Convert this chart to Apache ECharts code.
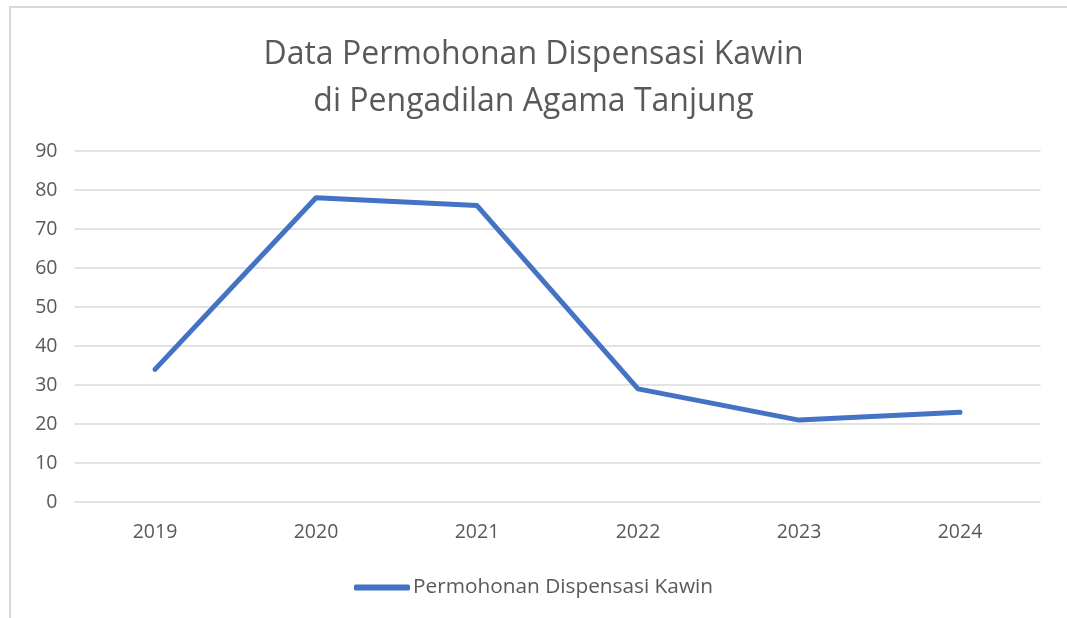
<!DOCTYPE html>
<html lang="id">
<head>
    <meta charset="utf-8">
    <script src="https://cdn.jsdelivr.net/npm/echarts@6/dist/echarts.min.js"></script>
    <style>
        html, body {
            margin: 0px;
            padding: 0px;
            width: 100%;
            height: 100%;
            background: #fff;
        }
        #chart {
            width: 1067px;
            height: 618px;
        }
    </style>
</head>
<body>
<div id="chart"></div>
<script type="text/javascript">
    // data
    var years = ['2019', '2020', '2021', '2022', '2023', '2024'];
    var permohonan = [34, 78, 76, 29, 21, 23];
    var seriesName = 'Permohonan Dispensasi Kawin';

    var myChart = echarts.init(document.getElementById('chart'));
    var font = '"Open Sans", "Liberation Sans", sans-serif';

    var option = {
        animation: false,
        textStyle: {fontFamily: font},
        graphic: [{
            type: 'rect',
            shape: {x: 10, y: 7, width: 1200, height: 800},
            style: {fill: 'none', stroke: '#d9d9d9', lineWidth: 2},
            silent: true
        }],
        title: {
            text: 'Data Permohonan Dispensasi Kawin\ndi Pengadilan Agama Tanjung',
            left: 'center',
            top: 26,
            textStyle: {
                fontFamily: font,
                fontSize: 32,
                fontWeight: 'normal',
                color: '#595959',
                lineHeight: 47
            }
        },
        legend: {
            top: 572,
            left: 'center',
            icon: 'roundRect',
            itemWidth: 56,
            itemHeight: 6,
            itemGap: 4,
            textStyle: {fontSize: 20.8, color: '#595959', fontFamily: font, padding: [0, 0, 0, -2]},
            data: [seriesName]
        },
        grid: {
            left: 74.5,
            right: 26.5,
            top: 151,
            bottom: 116
        },
        xAxis: {
            type: 'category',
            data: years,
            axisLine: {show: false},
            axisTick: {show: false},
            axisLabel: {fontSize: 19.5, color: '#595959', margin: 20}
        },
        yAxis: {
            type: 'value',
            min: 0,
            max: 90,
            interval: 10,
            axisLine: {show: false},
            axisTick: {show: false},
            axisLabel: {fontSize: 19.5, color: '#595959', margin: 17},
            splitLine: {lineStyle: {color: '#d9d9d9', width: 1.5}}
        },
        series: [{
            name: seriesName,
            type: 'line',
            data: permohonan,
            symbol: 'none',
            lineStyle: {color: '#4472C4', width: 5, cap: 'round', join: 'round'},
            itemStyle: {color: '#4472C4'}
        }]
    };

    myChart.setOption(option);
</script>
</body>
</html>
